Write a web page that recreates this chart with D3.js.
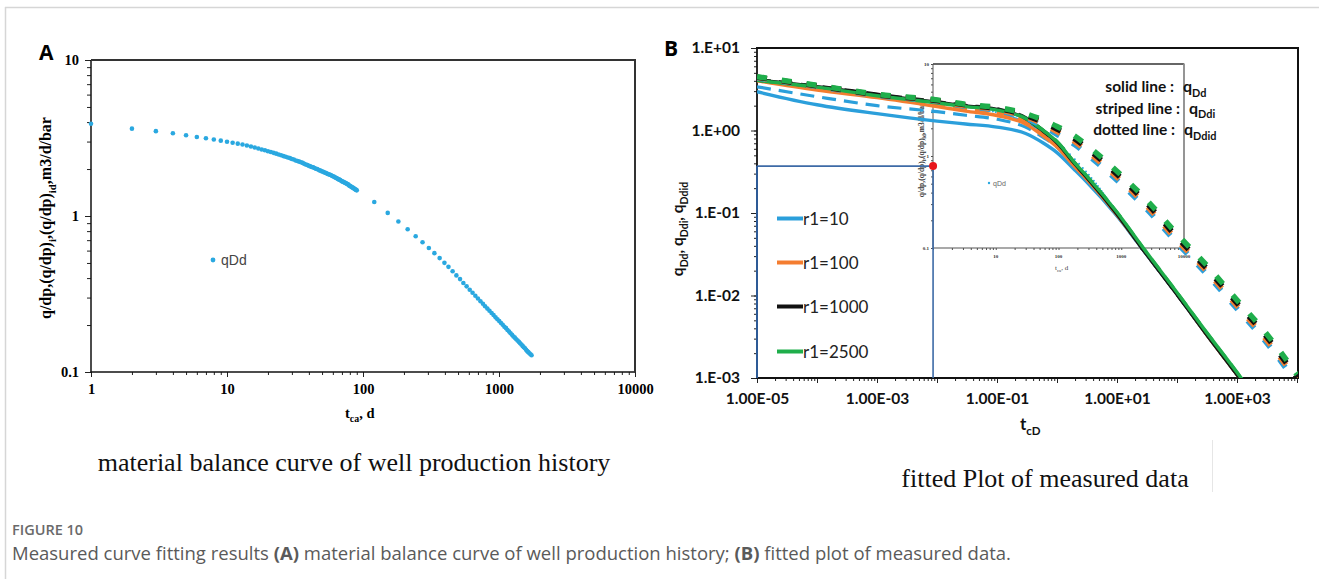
<!DOCTYPE html>
<html><head><meta charset="utf-8">
<script src="https://cdn.jsdelivr.net/npm/d3@7"></script>
<style>
body{margin:0;background:#fff;}
svg{display:block;}
</style></head><body>
<svg id="c" width="1319" height="579"></svg>
<script>
// ---------- Panel A data: material balance curve ----------
const tDays = [1,2,3,4,5,6,7,8,9,10,11,12,13,14,15,16,17,18,19,20,21,22,23,24,25,26,27,28,29,30,
31,32,33,34,35,36,37,38,39,40,41,42,43,44,45,46,47,48,49,50,51,52,53,54,55,56,57,58,59,60,
61,62,63,64,65,66,67,68,69,70,71,72,73,74,75,76,77,78,79,80,81,82,83,84,85,86,87,88,89,90,
121,152,182,213,244,274,305,335,366,397,425,456,486,517,547,578,609,639,670,700,731,762,790,821,
851,882,912,943,974,1004,1035,1065,1096,1127,1155,1186,1216,1247,1277,1308,1339,1369,1400,1430,
1461,1492,1521,1552,1582,1613,1643,1674,1705,1735];
const qDd = [3.90,3.63,3.50,3.39,3.29,3.21,3.15,3.09,3.04,2.99,2.95,2.91,2.87,2.83,2.79,2.75,2.71,2.67,2.64,2.60,
2.57,2.54,2.51,2.48,2.45,2.42,2.40,2.37,2.35,2.32,2.30,2.27,2.25,2.23,2.21,2.19,2.16,2.14,2.12,2.10,
2.08,2.06,2.05,2.03,2.01,2.00,1.98,1.96,1.95,1.93,1.92,1.90,1.89,1.88,1.86,1.85,1.84,1.83,1.81,1.80,
1.79,1.77,1.76,1.75,1.73,1.72,1.71,1.70,1.68,1.67,1.66,1.65,1.64,1.63,1.62,1.61,1.60,1.59,1.57,1.56,
1.55,1.54,1.53,1.52,1.51,1.50,1.49,1.48,1.47,1.46,
1.23,1.047,0.923,0.822,0.741,0.679,0.624,0.578,0.537,0.501,0.472,0.442,0.416,0.394,0.372,0.354,0.337,0.322,
0.308,0.296,0.284,0.274,0.264,0.255,0.247,0.239,0.232,0.224,0.218,0.212,0.206,0.201,0.195,0.191,0.186,0.182,
0.177,0.173,0.169,0.166,0.162,0.159,0.156,0.153,0.150,0.147,0.144,0.142,0.139,0.136,0.134,0.132,0.130,0.128];
const xTicksA = [1,10,100,1000,10000];
const xLabelsA = ["1","10","100","1000","10000"];
const yTicksA = [0.1,1,10];
const yLabelsA = ["0.1","1","10"];

// ---------- Panel B data: type curves ----------
const tGrid = [1e-5,1e-4,1e-3,1e-2,0.03,0.1,0.3,0.6,1,2,3,10,30,100,300,1000,3000,10000];
const seriesNames = ["r1=10","r1=100","r1=1000","r1=2500"];
const seriesColors = ["#2b9fdb","#f47d30","#111111","#1fae4b"];
// solid line: qDd
const solidBlue   = [2.95,2.05,1.6,1.3,1.2,1.1,0.92,0.7,0.54,0.33,0.245,0.092,0.0325,0.0104,0.0035,0.0011,0.00037,0.00011];
const solidOrange = [4.0,3.09,2.5,1.95,1.72,1.52,1.2,0.85,0.63,0.36,0.265,0.095,0.033,0.0105,0.0035,0.0011,0.00037,0.00011];
const solidBlack  = [4.1,3.4,2.71,2.2,1.98,1.8,1.4,0.97,0.71,0.39,0.28,0.097,0.0327,0.0103,0.0035,0.0011,0.00037,0.000112];
const solidGreen  = [4.05,3.35,2.64,2.16,1.95,1.77,1.4,0.99,0.73,0.4,0.29,0.102,0.0345,0.0109,0.0037,0.00117,0.00039,0.000118];
// striped line: qDdi
const dashBlue   = [3.39,2.57,2.0,1.69,1.53,1.37,1.1,0.82,0.63,0.36,0.26,0.093,0.0325,0.0104,0.0035,0.0011,0.00037,0.00011];
const dashOrange = [4.06,3.3,2.7,2.1,1.85,1.64,1.28,0.9,0.67,0.37,0.272,0.096,0.033,0.0105,0.0035,0.0011,0.00037,0.00011];
const dashBlack  = [4.15,3.45,2.76,2.24,2.02,1.83,1.43,0.99,0.72,0.395,0.283,0.097,0.0327,0.0103,0.0035,0.0011,0.00037,0.000112];
const dashGreen  = [4.12,3.4,2.68,2.2,1.99,1.8,1.42,1.0,0.74,0.405,0.293,0.102,0.0345,0.0109,0.0037,0.00117,0.00039,0.000118];
// dotted line: qDdid
const dotBlue   = [4.33,3.41,2.65,2.26,1.96,1.75,1.41,1.12,0.9,0.67,0.53,0.25,0.115,0.0434,0.0187,0.0069,0.00277,0.00086];
const dotOrange = [4.38,3.44,2.68,2.29,2.0,1.8,1.47,1.19,0.97,0.73,0.58,0.272,0.126,0.047,0.0204,0.0075,0.003,0.00094];
const dotBlack  = [4.42,3.48,2.71,2.31,2.04,1.85,1.53,1.25,1.04,0.79,0.63,0.295,0.136,0.051,0.022,0.0081,0.00327,0.00101];
const dotGreen  = [4.49,3.53,2.75,2.35,2.08,1.9,1.6,1.33,1.12,0.85,0.68,0.32,0.148,0.0556,0.024,0.0088,0.00355,0.0011];
const xTicksB = [1e-5,1e-3,1e-1,10,1000];
const xLabelsB = ["1.00E-05","1.00E-03","1.00E-01","1.00E+01","1.00E+03"];
const yTicksB = [1e-3,1e-2,1e-1,1,10];
const yLabelsB = ["1.E-03","1.E-02","1.E-01","1.E+00","1.E+01"];
const matchPoint = [{t:0.0086, q:0.37}];

const svg = d3.select("#c");
const SERIF = "'Liberation Serif','Times New Roman',serif";
const SANS = "Lato, 'Open Sans', sans-serif";

function rich(parent, x, y, parts, fs, opts) {
  opts = opts || {};
  const t = parent.append("text").attr("x", x).attr("y", y).attr("font-size", fs)
    .attr("font-family", opts.family || SANS).attr("font-weight", opts.weight || "normal")
    .attr("fill", opts.fill || "#000").attr("text-anchor", opts.anchor || "start");
  let shifted = 0;
  parts.forEach(p => {
    const sp = t.append("tspan").text(p.t);
    const target = p.sub ? fs * 0.3 : 0;
    if (target !== shifted) { sp.attr("dy", target - shifted); shifted = target; }
    if (p.sub) sp.attr("font-size", fs * 0.68);
  });
  return t;
}
function line(g, x1, y1, x2, y2, stroke, w) {
  return g.append("line").attr("x1", x1).attr("y1", y1).attr("x2", x2).attr("y2", y2)
    .attr("stroke", stroke).attr("stroke-width", w);
}

// page frame
line(svg, 5, 7.5, 1319, 7.5, "#d6d6d6", 1.5);
line(svg, 5.5, 7, 5.5, 579, "#d6d6d6", 1.5);

// ================= PANEL A =================
const gA = svg.append("g");
const xA = d3.scaleLog().domain([1, 10000]).range([91, 635]);
const yA = d3.scaleLog().domain([0.1, 10]).range([372, 60]);

gA.append("g").attr("transform", "translate(91,0)")
  .call(d3.axisLeft(yA).tickValues(yA.ticks()).tickSize(4).tickFormat(""))
  .call(g => g.select(".domain").remove());
gA.append("g").attr("transform", "translate(91,0)")
  .call(d3.axisLeft(yA).tickValues(yTicksA).tickSize(6).tickPadding(6).tickFormat((d, i) => yLabelsA[i]))
  .call(g => g.select(".domain").remove())
  .call(g => g.selectAll("text").attr("font-family", SERIF).attr("font-weight", "bold").attr("font-size", 14.5).attr("fill", "#000"));
gA.append("g").attr("transform", "translate(0,372)")
  .call(d3.axisBottom(xA).tickValues(xA.ticks()).tickSize(3).tickFormat(""))
  .call(g => g.select(".domain").remove());
gA.append("g").attr("transform", "translate(0,372)")
  .call(d3.axisBottom(xA).tickValues(xTicksA).tickSize(5).tickPadding(7).tickFormat((d, i) => xLabelsA[i]))
  .call(g => g.select(".domain").remove())
  .call(g => g.selectAll("text").attr("font-family", SERIF).attr("font-weight", "bold").attr("font-size", 14.5).attr("fill", "#000"));
gA.selectAll(".tick line").attr("stroke", "#222");

line(gA, 91, 60, 91, 372.5, "#111", 1.5);
line(gA, 90.5, 372, 635, 372, "#111", 1.5);
line(gA, 91, 60, 636, 60, "#333", 2);
line(gA, 635, 59, 635, 372.5, "#333", 2);

gA.selectAll("circle.pt").data(tDays).enter().append("circle")
  .attr("cx", d => xA(d)).attr("cy", (d, i) => yA(qDd[i])).attr("r", 2.3).attr("fill", "#2aa8e0");

// legend A
gA.append("circle").attr("cx", 213).attr("cy", 260).attr("r", 2.4).attr("fill", "#2aa8e0");
gA.append("text").attr("x", 221).attr("y", 265).attr("font-family", "'Liberation Sans',Arial,sans-serif")
  .attr("font-size", 14).attr("fill", "#444").text("qDd");

// axis titles A
rich(gA.append("g").attr("transform", "translate(51,218) rotate(-90)"), 0, 0,
  [{t:"q/dp,(q/dp)"},{t:"i",sub:1},{t:",(q/dp)"},{t:"id",sub:1},{t:",m3/d/bar"}], 16,
  {family: SERIF, weight: "bold", anchor: "middle"});
rich(gA, 345, 418, [{t:"t"},{t:"ca",sub:1},{t:",  d"}], 14.5, {family: SERIF, weight: "bold"});

gA.append("text").attr("x", 39).attr("y", 60).attr("font-family", "'Open Sans',sans-serif")
  .attr("font-weight", "bold").attr("font-size", 21).text("A");
svg.append("text").attr("x", 354).attr("y", 471).attr("text-anchor", "middle").attr("font-family", SERIF)
  .attr("font-size", 26).attr("fill", "#111").text("material balance curve of well production history");

// ================= PANEL B =================
const gB = svg.append("g");
const xB = d3.scaleLog().domain([1e-5, 1e4]).range([757, 1297]);
const yB = d3.scaleLog().domain([1e-3, 10]).range([378, 48]);

// ---- inset (pasted copy of panel A) ----
const gI = gB.append("g");
const xI = d3.scaleLog().domain([1, 10000]).range([933, 1184]);
const yI = d3.scaleLog().domain([0.1, 10]).range([248, 64]);
gI.append("g").attr("transform", "translate(933,0)")
  .call(d3.axisLeft(yI).tickValues(yI.ticks()).tickSize(2).tickFormat(""))
  .call(g => g.select(".domain").remove());
gI.append("g").attr("transform", "translate(0,248)")
  .call(d3.axisBottom(xI).tickValues(xI.ticks()).tickSize(2).tickFormat(""))
  .call(g => g.select(".domain").remove());
gI.selectAll(".tick line").attr("stroke", "#777").attr("stroke-width", 0.8);
gI.selectAll("text.iy").data(yTicksA).enter().append("text")
  .attr("x", 929).attr("y", d => yI(d) + 2).attr("text-anchor", "end")
  .attr("font-family", SERIF).attr("font-weight", "bold").attr("font-size", 5).attr("fill", "#333")
  .text((d, i) => yLabelsA[i]);
gI.selectAll("text.ix").data(xTicksA.slice(1)).enter().append("text")
  .attr("x", d => xI(d)).attr("y", 258).attr("text-anchor", "middle")
  .attr("font-family", SERIF).attr("font-weight", "bold").attr("font-size", 5).attr("fill", "#333")
  .text((d, i) => xLabelsA[i + 1]);
gI.selectAll("circle.ip").data(tDays).enter().append("circle")
  .attr("cx", d => xI(d)).attr("cy", (d, i) => yI(qDd[i])).attr("r", 1).attr("fill", "#2aa8e0");
gI.append("circle").attr("cx", 989).attr("cy", 183).attr("r", 1.2).attr("fill", "#2aa8e0");
gI.append("text").attr("x", 993).attr("y", 185.5).attr("font-family", "'Liberation Sans',Arial,sans-serif")
  .attr("font-size", 7).attr("fill", "#666").text("qDd");
rich(gI.append("g").attr("transform", "translate(924,150) rotate(-90)"), 0, 0,
  [{t:"q/dp,(q/dp)"},{t:"i",sub:1},{t:",(q/dp)"},{t:"id",sub:1},{t:",m3/d/bar"}], 7.5,
  {family: SERIF, weight: "bold", anchor: "middle", fill: "#333"});
rich(gI, 1055, 270, [{t:"t"},{t:"ca",sub:1},{t:",  d"}], 7, {family: SERIF, fill: "#444"});
line(gI, 933, 64, 1184, 64, "#333", 1.5);
line(gI, 1184, 63.5, 1184, 248.5, "#8a8a8a", 1.8);
line(gI, 933, 248, 1184, 248, "#555", 1.2);
line(gI, 933, 64, 933, 248, "#555", 1);

// ---- axes B ----
gB.append("g").attr("transform", "translate(757,0)")
  .call(d3.axisLeft(yB).tickValues(yB.ticks()).tickSize(3).tickFormat(""))
  .call(g => g.select(".domain").remove());
gB.append("g").attr("transform", "translate(757,0)")
  .call(d3.axisLeft(yB).tickValues(yTicksB).tickSize(6).tickPadding(11).tickFormat((d, i) => yLabelsB[i]))
  .call(g => g.select(".domain").remove())
  .call(g => g.selectAll("text").attr("font-family", SANS).attr("font-weight", "bold").attr("font-size", 15.5).attr("fill", "#111"));
gB.append("g").attr("transform", "translate(0,378)")
  .call(d3.axisBottom(xB).tickValues(xB.ticks()).tickSize(3).tickFormat(""))
  .call(g => g.select(".domain").remove());
gB.append("g").attr("transform", "translate(0,378)")
  .call(d3.axisBottom(xB).tickValues(xB.ticks().filter(d => Math.abs(Math.log10(d) - Math.round(Math.log10(d))) < 1e-9))
    .tickSize(5).tickPadding(10).tickFormat(d => { const i = xTicksB.findIndex(v => Math.abs(v / d - 1) < 1e-6); return i >= 0 ? xLabelsB[i] : ""; }))
  .call(g => g.select(".domain").remove())
  .call(g => g.selectAll("text").attr("font-family", SANS).attr("font-weight", "bold").attr("font-size", 15.5).attr("fill", "#111"));
gB.selectAll(".tick line").attr("stroke", "#222");

line(gB, 757, 47, 757, 379, "#111", 1.8);
line(gB, 756, 378, 1298, 378, "#111", 1.8);
line(gB, 756, 48, 1299, 48, "#111", 2);
line(gB, 1298, 47, 1298, 379, "#111", 2);

// ---- curves B ----
gB.append("clipPath").attr("id", "clipB").append("rect")
  .attr("x", 757).attr("y", 48).attr("width", 541).attr("height", 330);
const gC = gB.append("g").attr("clip-path", "url(#clipB)");
const lineGen = d3.line().x(d => xB(d[0])).y(d => yB(d[1])).curve(d3.curveMonotoneX);
const pairs = arr => tGrid.map((t, i) => [t, arr[i]]);
const dashed = [dashBlue, dashOrange, dashBlack, dashGreen];
const solids = [solidBlue, solidOrange, solidBlack, solidGreen];
const dots = [dotBlue, dotOrange, dotBlack, dotGreen];
dashed.forEach((arr, i) => gC.append("path").attr("d", lineGen(pairs(arr))).attr("fill", "none")
  .attr("stroke", seriesColors[i]).attr("stroke-width", 3.2).attr("stroke-dasharray", "14,8"));
[0, 1, 2, 3].forEach(i => gC.append("path").attr("d", lineGen(pairs(solids[i]))).attr("fill", "none")
  .attr("stroke", seriesColors[i]).attr("stroke-width", 3.4));
dots.forEach((arr, i) => gC.append("path").attr("d", lineGen(pairs(arr))).attr("fill", "none")
  .attr("stroke", seriesColors[i]).attr("stroke-width", 5.5).attr("stroke-dasharray", "10,15"));

// ---- match lines & point ----
matchPoint.forEach(p => {
  line(gB, 757, yB(p.q), xB(p.t), yB(p.q), "#3d6aa6", 1.6);
  line(gB, xB(p.t), yB(p.q), xB(p.t), 378, "#3d6aa6", 1.6);
  line(gB, 757, yB(p.q), 757, 378, "#2d5a96", 2);
  gB.append("circle").attr("cx", xB(p.t)).attr("cy", yB(p.q)).attr("r", 4).attr("fill", "#e8161c");
});

// ---- legend B ----
seriesNames.forEach((n, i) => {
  const y = [218.5, 262.5, 306.5, 351.5][i];
  line(gB, 777, y, 803, y, seriesColors[i], 4);
  gB.append("text").attr("x", 803).attr("y", y + 6).attr("font-family", SANS).attr("font-size", 17)
    .attr("fill", "#222").text(n);
});

// ---- annotations ----
const notes = [["solid line :", [{t:"q"},{t:"Dd",sub:1}], 92, 1183],
               ["striped line :", [{t:"q"},{t:"Ddi",sub:1}], 113.5, 1189],
               ["dotted line :", [{t:"q"},{t:"Ddid",sub:1}], 135, 1184]];
notes.forEach(nt => {
  gB.append("text").attr("x", nt[3] - 9).attr("y", nt[2]).attr("text-anchor", "end").attr("font-family", SANS)
    .attr("font-weight", "bold").attr("font-size", 15.5).attr("fill", "#111").text(nt[0]);
  rich(gB, nt[3], nt[2], nt[1], 16, {weight: "bold", fill: "#111"});
});

// ---- titles B ----
rich(gB.append("g").attr("transform", "translate(683,229) rotate(-90)"), 0, 0,
  [{t:"q"},{t:"Dd",sub:1},{t:", q"},{t:"Ddi",sub:1},{t:", q"},{t:"Ddid",sub:1}], 15.5,
  {weight: "bold", anchor: "middle", fill: "#111"});
rich(gB, 1020, 430, [{t:"t"},{t:"cD",sub:1}], 17, {weight: "bold", fill: "#111"});
gB.append("text").attr("x", 664).attr("y", 56).attr("font-family", "'Open Sans',sans-serif")
  .attr("font-weight", "bold").attr("font-size", 21).text("B");
svg.append("text").attr("x", 1045).attr("y", 487).attr("text-anchor", "middle").attr("font-family", SERIF)
  .attr("font-size", 26).attr("fill", "#111").text("fitted Plot of measured data");
line(svg, 1212.5, 440, 1212.5, 492, "#e6e6e6", 1);

// ================= CAPTION =================
svg.append("text").attr("x", 12).attr("y", 535).attr("font-family", "'Open Sans',sans-serif")
  .attr("font-weight", 600).attr("font-size", 14.5).attr("fill", "#6a6a6a").text("FIGURE 10");
const cap = svg.append("text").attr("x", 12).attr("y", 560).attr("font-family", "'Open Sans',sans-serif")
  .attr("font-size", 18.5).attr("fill", "#5a5a5a");
[["Measured curve fitting results ", 0], ["(A)", 1], [" material balance curve of well production history; ", 0],
 ["(B)", 1], [" fitted plot of measured data.", 0]].forEach(p => {
  cap.append("tspan").attr("font-weight", p[1] ? "bold" : "normal").text(p[0]);
});
</script>
</body></html>
